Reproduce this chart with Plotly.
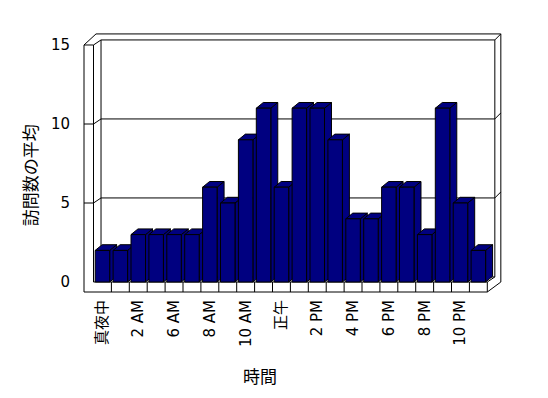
import plotly.graph_objects as go

# ---- data ----
hours = ["真夜中", "1 AM", "2 AM", "3 AM", "6 AM", "7 AM", "8 AM", "9 AM", "10 AM", "11 AM",
         "正午", "1 PM", "2 PM", "3 PM", "4 PM", "5 PM", "6 PM", "7 PM", "8 PM", "9 PM",
         "10 PM", "11 PM"]
visits = [2, 2, 3, 3, 3, 3, 6, 5, 9, 11, 6, 11, 11, 9, 4, 4, 6, 6, 3, 11, 5, 2]
y_ticks = [0, 5, 10, 15]
x_title = "時間"
y_title = "訪問数の平均"

# ---- geometry (layout constants) ----
N = len(hours)
YMAX = 15
BAR_HALF = 0.405      # half bar width in category units
BDX, BDY = 0.39, 0.36  # bar depth offset
WDX, WDY = 0.42, 0.32  # wall depth offset
WT = 0.53              # left wall front thickness
FT = 0.633             # floor slab thickness
OTX, OTY = 0.335, 0.38 # outer wall thickness offset

NAVY = "#000080"
FONT = "DejaVu Sans, Noto Sans CJK JP, sans-serif"
JFONT = "Noto Sans CJK JP, sans-serif"

xl, xr = -0.5, N - 0.5
bxl, bxr = xl + WDX, xr + WDX
outer_l = xl - WT
outer_r = bxr + OTX

# wall / floor line segments
wx, wy = [], []
def seg(pts):
    for p in pts:
        wx.append(p[0]); wy.append(p[1])
    wx.append(None); wy.append(None)

for v in y_ticks[1:]:
    seg([(outer_l, v), (xl, v), (bxl, v + WDY), (bxr, v + WDY), (outer_r, v + WDY + OTY)])
seg([(outer_l, YMAX), (bxl - 0.28, YMAX + WDY + OTY), (outer_r, YMAX + WDY + OTY)])
seg([(outer_l, -FT), (outer_l, YMAX)])
seg([(xl, 0), (xl, YMAX)])
seg([(bxl, WDY), (bxl, YMAX + WDY)])
seg([(bxr, WDY), (bxr, YMAX + WDY)])
seg([(outer_r, 0), (outer_r, YMAX + WDY + OTY)])
seg([(outer_l, -FT), (xr, -FT), (outer_r, 0)])
seg([(xl, 0), (xr, 0), (bxr, WDY)])
seg([(bxl, WDY), (bxr, WDY)])
seg([(xr, -FT), (xr, 0)])
for k in range(1, N):
    seg([(k - 0.5, -FT), (k - 0.5, 0)])

# bar faces
fx, fy, tx, ty, sx, sy = [], [], [], [], [], []
for i, v in enumerate(visits):
    x0, x1 = i - BAR_HALF, i + BAR_HALF
    fx += [x0, x1, x1, x0, x0, None]; fy += [0, 0, v, v, 0, None]
    tx += [x0, x1, x1 + BDX, x0 + BDX, x0, None]; ty += [v, v, v + BDY, v + BDY, v, None]
    sx += [x1, x1 + BDX, x1 + BDX, x1, x1, None]; sy += [0, BDY, v + BDY, v, 0, None]

fig = go.Figure()
fig.add_trace(go.Scatter(x=wx, y=wy, mode="lines", line=dict(color="black", width=1),
                         hoverinfo="skip", showlegend=False))
for xs, ys in [(sx, sy), (tx, ty), (fx, fy)]:
    fig.add_trace(go.Scatter(x=xs, y=ys, mode="lines", fill="toself", fillcolor=NAVY,
                             line=dict(color="black", width=1), hoverinfo="skip",
                             showlegend=False))

# page body has an 8px margin, so the figure is 540x390 and offset by 8px
fig.update_layout(
    width=540, height=390,
    margin=dict(l=72, r=42, t=22, b=102),
    paper_bgcolor="white", plot_bgcolor="white",
    font=dict(family=FONT, size=15, color="black"),
    xaxis=dict(range=[-1.254, 22.544], showgrid=False, zeroline=False, showline=False,
               tickmode="array", tickvals=list(range(0, N, 2)),
               ticktext=[hours[i] for i in range(0, N, 2)], tickangle=-90,
               ticks="", ticklen=0,
               tickfont=dict(size=15), automargin=False),
    yaxis=dict(range=[-0.886, 15.949], showgrid=False, zeroline=False, showline=False,
               tickmode="array", tickvals=y_ticks, ticks="outside", ticklen=6,
               tickcolor="rgba(0,0,0,0)", tickfont=dict(size=15), automargin=False),
    annotations=[
        dict(text=y_title, xref="paper", yref="paper", x=-0.117, y=0.455, textangle=-90,
             showarrow=False, xanchor="center", yanchor="middle",
             font=dict(size=17, family=JFONT)),
        dict(text=x_title, xref="paper", yref="paper", x=0.4225, y=-0.297,
             showarrow=False, xanchor="center", yanchor="middle",
             font=dict(size=17, family=JFONT)),
    ],
)
fig.write_html("out.html")
